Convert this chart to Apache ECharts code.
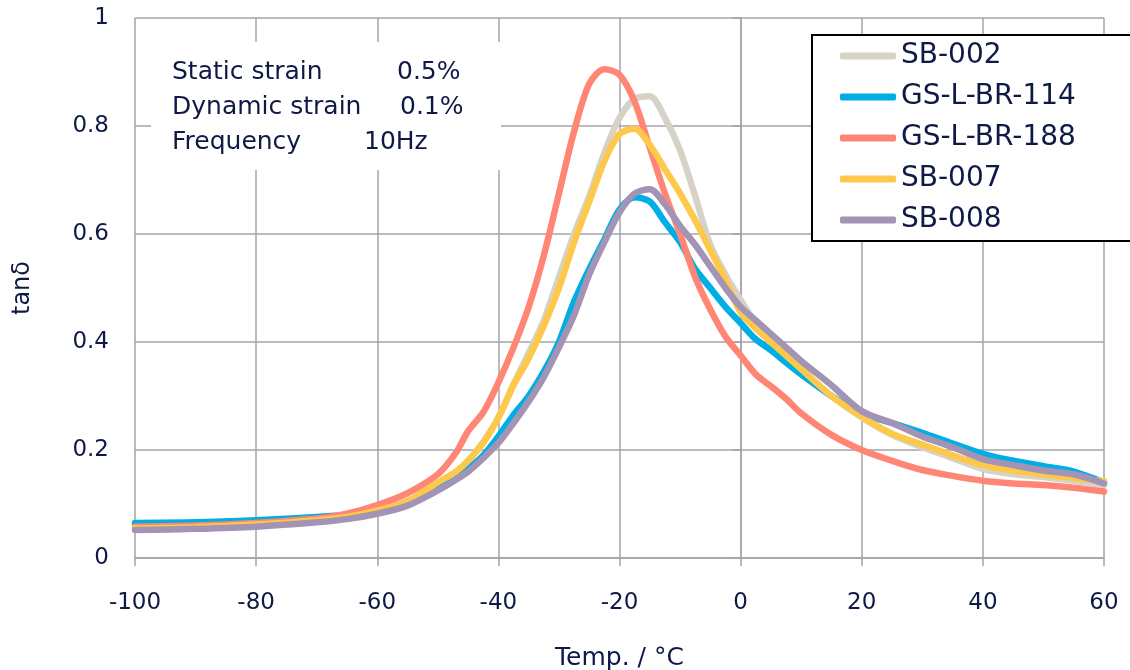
<!DOCTYPE html>
<html lang="en">
<head>
    <meta charset="UTF-8">
    <title>tan delta vs temperature</title>
    <script src="https://cdn.jsdelivr.net/npm/echarts@6/dist/echarts.min.js"></script>
    <style>
        html, body { margin: 0; padding: 0; background: #fff; }
        #chart { width: 1130px; height: 670px; }
    </style>
</head>
<body>
<div id="chart"></div>
<script>
// temperatures (°C) shared by all samples
var temps = [-100, -90, -80, -70, -65, -60, -55, -50, -47, -45, -42.5, -40, -37.5, -35, -32.5, -30,
    -27.5, -25, -22.5, -20, -17.5, -15, -12.5, -10, -7.5, -5, -2.5, 0, 2.5, 5, 7.5, 10,
    15, 20, 25, 30, 35, 40, 45, 50, 55, 60];

var sb002 = [0.055, 0.057, 0.062, 0.070, 0.076, 0.088, 0.106, 0.137, 0.158, 0.180, 0.215, 0.260, 0.322, 0.380, 0.440, 0.520,
    0.600, 0.670, 0.750, 0.815, 0.850, 0.855, 0.815, 0.755, 0.670, 0.580, 0.525, 0.478, 0.435, 0.400, 0.375, 0.350,
    0.300, 0.260, 0.228, 0.205, 0.185, 0.165, 0.155, 0.150, 0.143, 0.135];

var gs114 = [0.065, 0.066, 0.070, 0.076, 0.080, 0.090, 0.103, 0.130, 0.150, 0.165, 0.190, 0.225, 0.265, 0.300, 0.345, 0.400,
    0.475, 0.535, 0.590, 0.645, 0.668, 0.660, 0.622, 0.585, 0.535, 0.500, 0.465, 0.435, 0.405, 0.385, 0.362, 0.340,
    0.300, 0.268, 0.250, 0.232, 0.212, 0.193, 0.180, 0.170, 0.160, 0.140];

var gs188 = [0.058, 0.060, 0.065, 0.073, 0.082, 0.098, 0.120, 0.155, 0.195, 0.235, 0.270, 0.325, 0.390, 0.465, 0.560, 0.675,
    0.790, 0.878, 0.905, 0.895, 0.845, 0.760, 0.675, 0.600, 0.520, 0.460, 0.410, 0.375, 0.340, 0.318, 0.295, 0.268,
    0.228, 0.200, 0.180, 0.163, 0.152, 0.143, 0.138, 0.135, 0.130, 0.123];

var sb007 = [0.055, 0.057, 0.062, 0.070, 0.076, 0.088, 0.105, 0.140, 0.160, 0.180, 0.213, 0.260, 0.320, 0.370, 0.430, 0.500,
    0.585, 0.660, 0.735, 0.785, 0.795, 0.765, 0.720, 0.675, 0.625, 0.570, 0.515, 0.455, 0.425, 0.400, 0.375, 0.350,
    0.300, 0.262, 0.230, 0.210, 0.190, 0.172, 0.162, 0.155, 0.148, 0.142];

var sb008 = [0.052, 0.054, 0.058, 0.066, 0.072, 0.082, 0.097, 0.125, 0.145, 0.160, 0.185, 0.213, 0.250, 0.290, 0.335, 0.390,
    0.450, 0.525, 0.585, 0.640, 0.675, 0.683, 0.655, 0.615, 0.580, 0.540, 0.500, 0.465, 0.440, 0.415, 0.390, 0.365,
    0.320, 0.272, 0.250, 0.225, 0.205, 0.183, 0.172, 0.162, 0.155, 0.138];

var names = ['SB-002', 'GS-L-BR-114', 'GS-L-BR-188', 'SB-007', 'SB-008'];
var values = [sb002, gs114, gs188, sb007, sb008];
var colors = ['#d6d3c6', '#00aee6', '#ff8674', '#fec84a', '#a393b4'];

var textColor = '#0e1a45';
var gridColor = '#a3a3ab';
var font = 'DejaVu Sans';

var chart = echarts.init(document.getElementById('chart'));

var series = names.map(function (n, i) {
    return {
        name: n,
        type: 'line',
        smooth: 0.3,
        showSymbol: false,
        symbol: 'none',
        lineStyle: { width: 6.5, color: colors[i], cap: 'round', join: 'round' },
        itemStyle: { color: colors[i] },
        data: temps.map(function (t, k) { return [t, values[i][k]]; })
    };
});

var option = {
    animation: false,
    backgroundColor: '#fff',
    grid: { left: 135, right: 26, top: 18, bottom: 112, containLabel: false, outerBoundsMode: 'none' },
    legend: {
        orient: 'vertical',
        left: 812,
        top: 35,
        padding: [5, 60, 5, 28],
        borderColor: '#000',
        borderWidth: 2,
        backgroundColor: '#fff',
        icon: 'roundRect',
        itemWidth: 56,
        itemHeight: 7,
        itemGap: 9,
        textStyle: { fontFamily: font, fontSize: 28, color: textColor, lineHeight: 32 },
        data: names
    },
    xAxis: {
        type: 'value',
        min: -100,
        max: 60,
        interval: 20,
        name: 'Temp. / °C',
        nameLocation: 'middle',
        nameGap: 88,
        nameTextStyle: { fontFamily: font, fontSize: 25, color: textColor },
        axisLine: { show: true, onZero: false, lineStyle: { color: gridColor, width: 1.5 } },
        axisTick: { show: true, length: 8, lineStyle: { color: gridColor, width: 1.5 } },
        axisLabel: { margin: 34, fontFamily: font, fontSize: 23, color: textColor },
        splitLine: { show: true, lineStyle: { color: gridColor, width: 1.5 } }
    },
    yAxis: {
        type: 'value',
        min: 0,
        max: 1,
        interval: 0.2,
        name: 'tanδ',
        nameLocation: 'middle',
        nameGap: 100,
        nameTextStyle: { fontFamily: font, fontSize: 24, color: textColor },
        axisLine: { show: true, lineStyle: { color: gridColor, width: 1.5 } },
        axisTick: { show: true, length: 8, lineStyle: { color: gridColor, width: 1.5 } },
        axisLabel: { margin: 26, fontFamily: font, fontSize: 23, color: textColor },
        splitLine: { show: true, lineStyle: { color: gridColor, width: 1.5 } }
    },
    graphic: [
        { type: 'rect', z: 1, shape: { x: 151, y: 42, width: 350, height: 128 }, style: { fill: '#fff' } },
        { type: 'text', z: 2, x: 172, y: 72, style: { text: 'Static strain', font: '25px ' + font, fill: textColor, verticalAlign: 'middle' } },
        { type: 'text', z: 2, x: 397, y: 72, style: { text: '0.5%', font: '25px ' + font, fill: textColor, verticalAlign: 'middle' } },
        { type: 'text', z: 2, x: 172, y: 107, style: { text: 'Dynamic strain', font: '25px ' + font, fill: textColor, verticalAlign: 'middle' } },
        { type: 'text', z: 2, x: 400, y: 107, style: { text: '0.1%', font: '25px ' + font, fill: textColor, verticalAlign: 'middle' } },
        { type: 'text', z: 2, x: 172, y: 142, style: { text: 'Frequency', font: '25px ' + font, fill: textColor, verticalAlign: 'middle' } },
        { type: 'text', z: 2, x: 364, y: 142, style: { text: '10Hz', font: '25px ' + font, fill: textColor, verticalAlign: 'middle' } }
    ],
    series: series
};

chart.setOption(option);
</script>
</body>
</html>
